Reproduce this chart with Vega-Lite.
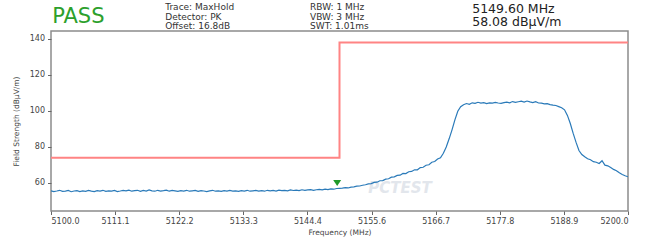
{
  "$schema": "https://vega.github.io/schema/vega-lite/v6.json",
  "width": 577,
  "height": 180,
  "autosize": {"type": "none"},
  "padding": {"left": 51, "top": 31, "right": 22, "bottom": 30},
  "background": "white",
  "config": {
    "font": "DejaVu Sans",
    "view": {"stroke": "#8c8c8c", "strokeWidth": 1.5},
    "axis": {
      "labelFont": "DejaVu Sans",
      "titleFont": "DejaVu Sans",
      "labelFontSize": 8,
      "titleFontSize": 7.5,
      "labelColor": "#444",
      "titleColor": "#444",
      "titleFontWeight": "normal",
      "gridColor": "#d0d0d0",
      "gridWidth": 1,
      "tickColor": "#666",
      "tickSize": 3.5,
      "domain": false
    }
  },
  "datasets": {
    "trace": [
      {"f":5100.0,"v":55.6},{"f":5100.5,"v":55.2},{"f":5101.0,"v":55.5},{"f":5101.5,"v":55.9},{"f":5102.0,"v":55.3},
      {"f":5102.5,"v":55.4},{"f":5103.0,"v":55.8},{"f":5103.5,"v":55.1},{"f":5104.0,"v":55.5},{"f":5104.5,"v":55.7},
      {"f":5105.0,"v":55.2},{"f":5105.5,"v":55.6},{"f":5106.0,"v":55.3},{"f":5106.5,"v":55.8},{"f":5107.0,"v":55.4},
      {"f":5107.5,"v":55.2},{"f":5108.0,"v":55.7},{"f":5108.5,"v":55.5},{"f":5109.0,"v":55.9},{"f":5109.5,"v":55.3},
      {"f":5110.0,"v":55.6},{"f":5110.5,"v":55.4},{"f":5111.0,"v":55.8},{"f":5111.5,"v":55.2},{"f":5112.0,"v":55.5},
      {"f":5112.5,"v":55.9},{"f":5113.0,"v":55.6},{"f":5113.5,"v":56.0},{"f":5114.0,"v":55.4},{"f":5114.5,"v":55.7},
      {"f":5115.0,"v":55.9},{"f":5115.5,"v":55.3},{"f":5116.0,"v":55.8},{"f":5116.5,"v":55.5},{"f":5117.0,"v":56.1},
      {"f":5117.5,"v":55.6},{"f":5118.0,"v":55.4},{"f":5118.5,"v":55.9},{"f":5119.0,"v":55.5},{"f":5119.5,"v":55.7},
      {"f":5120.0,"v":56.0},{"f":5120.5,"v":55.4},{"f":5121.0,"v":55.8},{"f":5121.5,"v":55.6},{"f":5122.0,"v":55.3},
      {"f":5122.5,"v":55.7},{"f":5123.0,"v":55.5},{"f":5123.5,"v":55.9},{"f":5124.0,"v":55.4},{"f":5124.5,"v":55.6},
      {"f":5125.0,"v":55.8},{"f":5125.5,"v":55.3},{"f":5126.0,"v":55.7},{"f":5126.5,"v":55.5},{"f":5127.0,"v":55.2},
      {"f":5127.5,"v":55.6},{"f":5128.0,"v":55.9},{"f":5128.5,"v":55.4},{"f":5129.0,"v":55.6},{"f":5129.5,"v":55.3},
      {"f":5130.0,"v":55.7},{"f":5130.5,"v":55.5},{"f":5131.0,"v":55.8},{"f":5131.5,"v":55.4},{"f":5132.0,"v":55.6},
      {"f":5132.5,"v":55.3},{"f":5133.0,"v":55.7},{"f":5133.5,"v":55.5},{"f":5134.0,"v":55.9},{"f":5134.5,"v":55.4},
      {"f":5135.0,"v":55.6},{"f":5135.5,"v":55.8},{"f":5136.0,"v":55.5},{"f":5136.5,"v":55.7},{"f":5137.0,"v":55.4},
      {"f":5137.5,"v":55.9},{"f":5138.0,"v":55.6},{"f":5138.5,"v":55.8},{"f":5139.0,"v":55.5},{"f":5139.5,"v":56.0},
      {"f":5140.0,"v":55.7},{"f":5140.5,"v":55.9},{"f":5141.0,"v":55.6},{"f":5141.5,"v":56.1},{"f":5142.0,"v":55.8},
      {"f":5142.5,"v":56.0},{"f":5143.0,"v":55.7},{"f":5143.5,"v":56.2},{"f":5144.0,"v":55.9},{"f":5144.5,"v":56.1},
      {"f":5145.0,"v":56.3},{"f":5145.5,"v":55.9},{"f":5146.0,"v":56.2},{"f":5146.5,"v":56.4},{"f":5147.0,"v":56.1},
      {"f":5147.5,"v":56.5},{"f":5148.0,"v":56.3},{"f":5148.5,"v":56.7},{"f":5149.0,"v":56.5},{"f":5149.5,"v":56.9},
      {"f":5150.0,"v":57.0},{"f":5150.5,"v":57.1},{"f":5151.0,"v":57.4},{"f":5151.5,"v":57.2},{"f":5152.0,"v":57.7},
      {"f":5152.5,"v":57.8},{"f":5153.0,"v":58.2},{"f":5153.5,"v":58.3},{"f":5154.0,"v":58.7},{"f":5154.5,"v":59.0},
      {"f":5155.0,"v":59.5},{"f":5155.5,"v":59.6},{"f":5156.0,"v":60.3},{"f":5156.5,"v":60.4},{"f":5157.0,"v":61.2},
      {"f":5157.5,"v":61.3},{"f":5158.0,"v":62.1},{"f":5158.5,"v":62.3},{"f":5159.0,"v":63.2},{"f":5159.5,"v":63.4},
      {"f":5160.0,"v":64.2},{"f":5160.5,"v":64.3},{"f":5161.0,"v":65.3},{"f":5161.5,"v":65.2},{"f":5162.0,"v":66.2},
      {"f":5162.5,"v":66.4},{"f":5163.0,"v":67.3},{"f":5163.5,"v":67.3},{"f":5164.0,"v":68.5},{"f":5164.5,"v":68.7},
      {"f":5165.0,"v":69.8},{"f":5165.5,"v":70.1},{"f":5166.0,"v":71.5},{"f":5166.5,"v":71.9},{"f":5167.0,"v":73.3},
      {"f":5167.5,"v":74.0},{"f":5168.0,"v":76.5},{"f":5168.5,"v":80.0},{"f":5169.0,"v":84.5},{"f":5169.5,"v":89.5},
      {"f":5170.0,"v":95.0},{"f":5170.5,"v":99.8},{"f":5171.0,"v":102.3},{"f":5171.5,"v":103.4},{"f":5172.0,"v":104.1},
      {"f":5172.5,"v":103.7},{"f":5173.0,"v":104.5},{"f":5173.5,"v":104.2},{"f":5174.0,"v":104.8},{"f":5174.5,"v":104.3},
      {"f":5175.0,"v":104.6},{"f":5175.5,"v":104.1},{"f":5176.0,"v":104.5},{"f":5176.5,"v":104.3},{"f":5177.0,"v":104.7},
      {"f":5177.5,"v":104.4},{"f":5178.0,"v":104.2},{"f":5178.5,"v":104.6},{"f":5179.0,"v":104.9},{"f":5179.5,"v":104.5},
      {"f":5180.0,"v":105.2},{"f":5180.5,"v":104.8},{"f":5181.0,"v":105.1},{"f":5181.5,"v":105.4},{"f":5182.0,"v":104.9},
      {"f":5182.5,"v":105.5},{"f":5183.0,"v":105.0},{"f":5183.5,"v":104.6},{"f":5184.0,"v":105.1},{"f":5184.5,"v":104.4},
      {"f":5185.0,"v":104.3},{"f":5185.5,"v":103.9},{"f":5186.0,"v":104.0},{"f":5186.5,"v":103.5},{"f":5187.0,"v":103.2},
      {"f":5187.5,"v":103.0},{"f":5188.0,"v":102.4},{"f":5188.5,"v":101.8},{"f":5189.0,"v":100.6},{"f":5189.5,"v":97.5},
      {"f":5190.0,"v":93.0},{"f":5190.5,"v":87.5},{"f":5191.0,"v":82.5},{"f":5191.5,"v":78.0},{"f":5192.0,"v":75.8},
      {"f":5192.5,"v":74.5},{"f":5193.0,"v":73.4},{"f":5193.5,"v":72.9},{"f":5194.0,"v":71.8},{"f":5194.5,"v":71.5},
      {"f":5195.0,"v":70.8},{"f":5195.5,"v":72.3},{"f":5196.0,"v":69.9},{"f":5196.5,"v":69.5},{"f":5197.0,"v":68.6},
      {"f":5197.5,"v":67.5},{"f":5198.0,"v":66.8},{"f":5198.5,"v":65.6},{"f":5199.0,"v":64.7},{"f":5199.5,"v":64.0},
      {"f":5200.0,"v":63.4}
    ],
    "limit": [
      {"i":0,"f":5100,"v":74},{"i":1,"f":5150,"v":74},{"i":2,"f":5150,"v":138},{"i":3,"f":5200,"v":138}
    ],
    "marker": [{"f":5149.6,"v":58.3}],
    "header": [
      {"g":"status","label":"PASS"},
      {"g":"trace","label":"Trace: MaxHold\nDetector: PK\nOffset: 16.8dB"},
      {"g":"bw","label":"RBW: 1 MHz\nVBW: 3 MHz\nSWT: 1.01ms"},
      {"g":"readout","label":"5149.60 MHz\n58.08 dBµV/m"},
      {"g":"watermark","label":"PCTEST"}
    ]
  },
  "layer": [
    {
      "data": {"name": "header"},
      "transform": [{"filter": "datum.g === 'watermark'"}],
      "mark": {"type": "text", "align": "center", "baseline": "middle", "fontSize": 15, "fontStyle": "italic", "fontWeight": "bold", "letterSpacing": 4, "color": "#e2e6ec", "font": "DejaVu Sans"},
      "encoding": {
        "x": {"datum": 5160.5, "type": "quantitative", "scale": {"domain": [5100, 5200], "nice": false, "zero": false}},
        "y": {"datum": 57.2, "type": "quantitative"},
        "text": {"field": "label"}
      }
    },
    {
      "data": {"name": "limit"},
      "mark": {"type": "line", "color": "#ff8484", "strokeWidth": 2, "clip": true},
      "encoding": {
        "x": {"field": "f", "type": "quantitative"},
        "y": {"field": "v", "type": "quantitative"},
        "order": {"field": "i"}
      }
    },
    {
      "data": {"name": "trace"},
      "mark": {"type": "line", "color": "#2a7ab9", "strokeWidth": 1.2, "clip": true},
      "encoding": {
        "x": {
          "field": "f", "type": "quantitative",
          "scale": {"domain": [5100, 5200], "nice": false, "zero": false},
          "axis": {
            "title": "Frequency (MHz)",
            "values": [5100, 5111.111, 5122.222, 5133.333, 5144.444, 5155.556, 5166.667, 5177.778, 5188.889, 5200],
            "format": ".1f",
            "labelPadding": 3,
            "titlePadding": 3
          }
        },
        "y": {
          "field": "v", "type": "quantitative",
          "scale": {"domain": [44.4, 144.4], "nice": false, "zero": false},
          "axis": {
            "title": "Field Strength (dBµV/m)",
            "values": [60, 80, 100, 120, 140],
            "labelPadding": 3,
            "titlePadding": 9
          }
        }
      }
    },
    {
      "data": {"name": "marker"},
      "mark": {"type": "point", "shape": "M -1 -1.5 L 1 -1.5 L 0 0 Z", "filled": true, "color": "#1f9a2a", "size": 64, "opacity": 1},
      "encoding": {
        "x": {"field": "f", "type": "quantitative"},
        "y": {"field": "v", "type": "quantitative"}
      }
    },
    {
      "data": {"name": "header"},
      "transform": [{"filter": "datum.g === 'status'"}],
      "mark": {"type": "text", "align": "left", "baseline": "middle", "fontSize": 21, "color": "#2ca02c", "font": "DejaVu Sans"},
      "encoding": {
        "x": {"datum": 5100.2, "type": "quantitative"},
        "y": {"datum": 152.2, "type": "quantitative"},
        "text": {"field": "label"}
      }
    },
    {
      "data": {"name": "header"},
      "transform": [{"filter": "datum.g === 'trace'"}],
      "mark": {"type": "text", "align": "left", "baseline": "top", "fontSize": 9, "lineHeight": 9.3, "lineBreak": "\n", "color": "#333", "font": "DejaVu Sans"},
      "encoding": {
        "x": {"datum": 5119.8, "type": "quantitative"},
        "y": {"datum": 159.8, "type": "quantitative"},
        "text": {"field": "label"}
      }
    },
    {
      "data": {"name": "header"},
      "transform": [{"filter": "datum.g === 'bw'"}],
      "mark": {"type": "text", "align": "left", "baseline": "top", "fontSize": 9, "lineHeight": 9.3, "lineBreak": "\n", "color": "#333", "font": "DejaVu Sans"},
      "encoding": {
        "x": {"datum": 5144.9, "type": "quantitative"},
        "y": {"datum": 159.8, "type": "quantitative"},
        "text": {"field": "label"}
      }
    },
    {
      "data": {"name": "header"},
      "transform": [{"filter": "datum.g === 'readout'"}],
      "mark": {"type": "text", "align": "left", "baseline": "top", "fontSize": 12.5, "lineHeight": 13.5, "lineBreak": "\n", "color": "#222", "font": "DejaVu Sans"},
      "encoding": {
        "x": {"datum": 5173.0, "type": "quantitative"},
        "y": {"datum": 160.2, "type": "quantitative"},
        "text": {"field": "label"}
      }
    }
  ]
}
